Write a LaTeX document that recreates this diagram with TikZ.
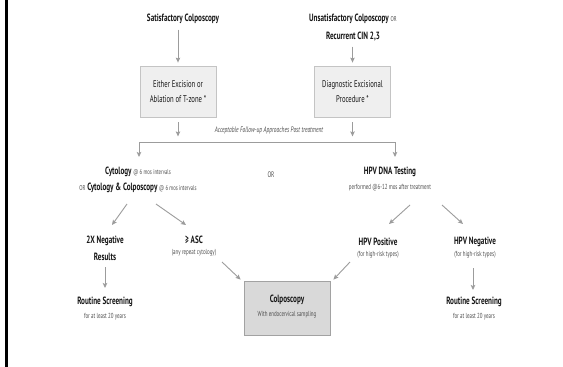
\documentclass[tikz,border=0pt]{standalone}
\usepackage{fontspec}
\setmainfont[FakeStretch=0.68]{PT Sans}
\usetikzlibrary{arrows.meta,calc}
\definecolor{ink}{HTML}{161616}
\definecolor{notegray}{HTML}{4E4E4E}
\definecolor{arrowgray}{HTML}{9C9C9C}
\definecolor{boxfill}{HTML}{EFEFEF}
\definecolor{boxline}{HTML}{C4C4C4}
\definecolor{keyfill}{HTML}{D9D9D9}
\definecolor{keyline}{HTML}{A2A2A2}
\newcommand{\nt}[1]{{\mdseries\fontsize{7}{8}\selectfont\color{notegray}#1}}
\begin{document}
\begin{tikzpicture}[x=1pt,y=-1pt,
  head/.style={font=\bfseries\fontsize{10.5}{17}\selectfont, text=ink, align=center, inner sep=0pt},
  note/.style={font=\fontsize{7.3}{8}\selectfont, text=notegray, align=center, inner sep=0pt},
  stepbox/.style={draw=boxline, fill=boxfill, line width=0.8pt, minimum width=76pt, minimum height=51pt,
    font=\fontsize{9.8}{15}\selectfont, text=ink, align=center, inner sep=0pt},
  keybox/.style={draw=keyline, fill=keyfill, line width=0.8pt, minimum width=86pt, minimum height=54pt, inner sep=0pt},
  link/.style={draw=arrowgray, line width=0.9pt},
  arr/.style={link, -{Stealth[length=5pt,width=4.5pt,inset=1pt]}}]

\fill[white] (0,0) rectangle (563,367);
\useasboundingbox (0,0) rectangle (563,367);
\draw[line width=3pt] (6.5,0) -- (6.5,367);

% entry conditions
\node[head] (sat) at (183,19) {Satisfactory Colposcopy};
\node[head, font=\bfseries\fontsize{10.5}{18}\selectfont] (unsat) at (353,28)
  {Unsatisfactory Colposcopy \nt{OR}\\Recurrent CIN 2,3};

% treatment boxes
\node[stepbox] (treatL) at (178,91.5) {Either Excision or\\Ablation of T-zone *};
\node[stepbox] (treatR) at (352.5,91.5) {Diagnostic Excisional\\Procedure *};

\draw[arr] ($(treatL.north)+(0,-36)$) -- ($(treatL.north)+(0,-3)$);
\draw[arr] ($(treatR.north)+(0,-19)$) -- ($(treatR.north)+(0,-3)$);

% follow-up split
\node[note, font=\itshape\fontsize{8}{9}\selectfont] (follow) at (269,130)
  {Acceptable Follow-up Approaches Post treatment};
\coordinate (fl) at (139,142);
\coordinate (fr) at (395,142);
\draw[arr] ($(treatL.south)+(0,5)$) -- ($(treatL.south)+(0,19)$);
\draw[arr] ($(treatR.south)+(0,5)$) -- ($(treatR.south)+(0,19)$);
\draw[link] (fl) -- (fr);
\draw[arr] (fl) -- ++(0,15);
\draw[arr] (fr) -- ++(0,15);

% follow-up options
\node[head, font=\bfseries\fontsize{10.5}{16}\selectfont] (cyto) at (138,180)
  {Cytology \nt{@ 6 mos intervals}\\\nt{OR} Cytology \& Colposcopy \nt{@ 6 mos intervals}};
\node[note, font=\fontsize{8}{9}\selectfont] (or) at (271,175) {OR};
\node[head] (hpv) at (390,172) {HPV DNA Testing};
\node[note] (hpvnote) at (390,188) {performed @6-12 mos after treatment};

% cytology branch
\node[head] (neg) at (105,248.5) {2X Negative\\Results};
\node[head] (asc) at (194,240) {≥ ASC};
\node[note] (ascnote) at (194,253) {(any repeat cytology)};
\node[head] (rsL) at (105,302) {Routine Screening};
\node[note] (rsLnote) at (105,317) {for at least 20 years};

% HPV branch
\node[head] (pos) at (378,242) {HPV Positive};
\node[note] (posnote) at (378,255) {(for high-risk types)};
\node[head] (hneg) at (475,242) {HPV Negative};
\node[note] (hnegnote) at (475,255) {(for high-risk types)};
\node[head] (rsR) at (474,302) {Routine Screening};
\node[note] (rsRnote) at (474,317) {for at least 20 years};

% colposcopy
\node[keybox] (colpo) at (287,308) {};
\node[head] (colpot) at (287,300) {Colposcopy};
\node[note] (colpon) at (287,315) {With endocervical sampling};

% connectors
\draw[arr] ($(cyto)+(-11,24)$) -- ($(neg)+(7,-23.5)$);
\draw[arr] ($(cyto)+(18,24)$) -- ($(asc)+(-8,-15)$);
\draw[arr] ($(hpv)+(20,33)$) -- ($(pos)+(11,-18)$);
\draw[arr] ($(hpv)+(52,33)$) -- ($(hneg)+(-12,-18)$);
\draw[arr] ($(neg)+(0,18.5)$) -- ($(rsL)+(0,-14)$);
\draw[arr] ($(hnegnote)+(-2,13)$) -- ($(rsR)+(-1,-12)$);
\draw[arr] ($(ascnote)+(28,9)$) -- ($(colpo.north west)+(-3,-1)$);
\draw[arr] ($(posnote)+(-28,7)$) -- ($(colpo.north east)+(3,-1)$);
\end{tikzpicture}
\end{document}
